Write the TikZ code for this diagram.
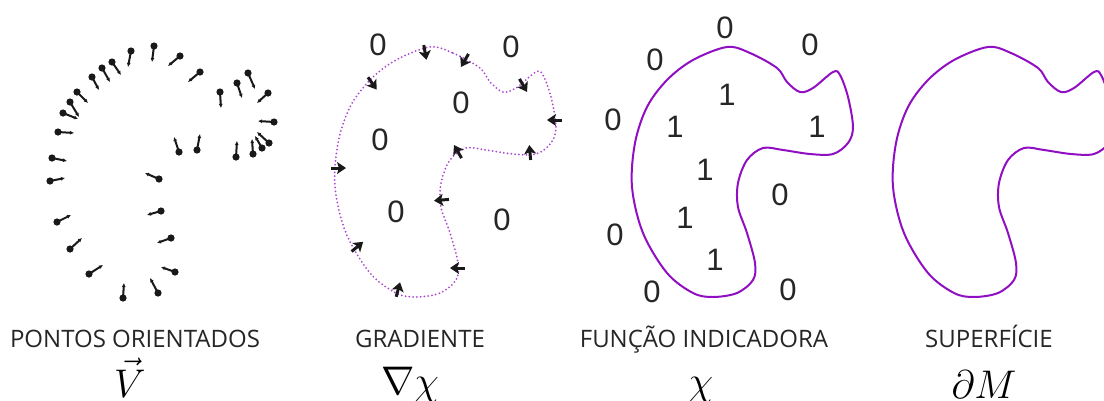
\documentclass[tikz,border=0pt]{standalone}
\usepackage{fix-cm}
\usepackage{fontspec}
\setmainfont{Open Sans}
\newfontfamily\digitfont{Liberation Sans}
\usetikzlibrary{arrows.meta}

\definecolor{blobline}{RGB}{145,15,195}
\definecolor{blobdots}{RGB}{170,70,210}
\definecolor{normalink}{RGB}{25,25,25}

\newcommand{\blobpath}{plot[smooth cycle,tension=0.55] coordinates {(727,47) (750,53) (777,68) (787,82) (800,92) (813,88) (833,72) (840,75) (848,97) (853,127) (848,143) (833,154) (810,154) (783,150) (763,148) (747,160) (738,183) (738,207) (747,233) (755,263) (753,280) (737,293) (713,297) (693,293) (667,273) (643,233) (632,187) (635,143) (647,107) (667,80) (693,60)}}

\begin{document}
\begin{tikzpicture}[x=1pt,y=-1pt,
  orpoint/.style={line width=2pt,normalink,-{Latex[length=4pt,width=4pt]}},
  gradarrow/.style={line width=3pt,normalink,-{Stealth[length=9pt,width=12pt,inset=2pt]}},
  dotcurve/.style={blobdots,line width=2pt,line cap=round,dash pattern=on 0pt off 3.8pt},
  surfcurve/.style={blobline,line width=2pt},
  digit/.style={font=\digitfont\fontsize{31}{33}\selectfont,text=black!85},
  caption/.style={font=\fontsize{24}{26}\selectfont,anchor=base,text=black!85},
  symb/.style={font=\fontsize{40}{44}\selectfont,anchor=base}]
  \useasboundingbox (0,0) rectangle (1104,400);
  \clip (0,0) rectangle (1104,400);
  \fill[white] (0,0) rectangle (1104,400);
  % pontos orientados
  \foreach \bx/\by/\ex/\ey in {
    131/51/128/67, 154/46/152/62, 180/56/168/66, 200/72/188/82,
    112/62/121/75, 102/68/110/82, 92/77/99/90, 77/92/88/103,
    70/102/79/117, 63/113/78/119, 58/132/74/133, 52/158/67/161,
    50/181/65/178, 57/222/71/215, 70/249/82/238, 89/274/103/265,
    123/298/124/283, 158/293/150/278, 175/272/161/267, 171/238/157/243,
    161/211/147/215, 159/179/145/173, 179/152/174/137, 197/150/200/134,
    220/92/221/108, 237/83/242/98, 248/73/255/89, 268/93/257/103,
    274/122/258/121, 269/143/257/132, 262/148/255/136, 253/154/252/139,
    236/157/237/141}
  {
    \fill[normalink] (\bx,\by) circle (3.6pt);
    \draw[orpoint] (\bx,\by) -- (\ex,\ey);
  }
  % gradiente
  \draw[dotcurve,xshift=-297pt] \blobpath;
  \foreach \x/\y/\a in {
    425/52/80, 465/60/120, 372/83/55, 523/85/60,
    555/120/180, 530/153/265, 458/152/240, 338/168/0,
    442/200/175, 357/247/320, 458/268/180, 398/290/285}
  {
    \draw[gradarrow] (\x,\y) ++(\a:-7) -- ++(\a:15);
  }
  \foreach \x/\y [count=\i] in {378/45, 511/47, 461/103, 380/140, 396/212, 502/220}
    \node[digit] (gz\i) at (\x,\y) {0};
  % funcao indicadora
  \draw[surfcurve] \blobpath;
  \foreach \x/\y [count=\i] in {725/28, 810/45, 655/60, 613/120, 780/195, 615/235, 652/292, 788/290}
    \node[digit] (iz\i) at (\x,\y) {0};
  \foreach \x/\y [count=\i] in {727/95, 675/127, 817/127, 705/170, 685/218, 715/260}
    \node[digit] (io\i) at (\x,\y) {1};
  % superficie
  \draw[surfcurve,xshift=261pt] \blobpath;
  % legendas
  \node[caption] (capa) at (135,347) {PONTOS ORIENTADOS};
  \node[caption] (capb) at (420,347) {GRADIENTE};
  \node[caption] (capc) at (704,347) {FUNÇÃO INDICADORA};
  \node[caption] (capd) at (989,347) {SUPERFÍCIE};
  \node[symb] (syma) at (130,397) {$\vec{V}$};
  \node[symb] (symb) at (410,394) {$\nabla\chi$};
  \node[symb] (symc) at (701,394) {$\chi$};
  \node[symb] (symd) at (984,398) {$\partial M$};
\end{tikzpicture}
\end{document}
